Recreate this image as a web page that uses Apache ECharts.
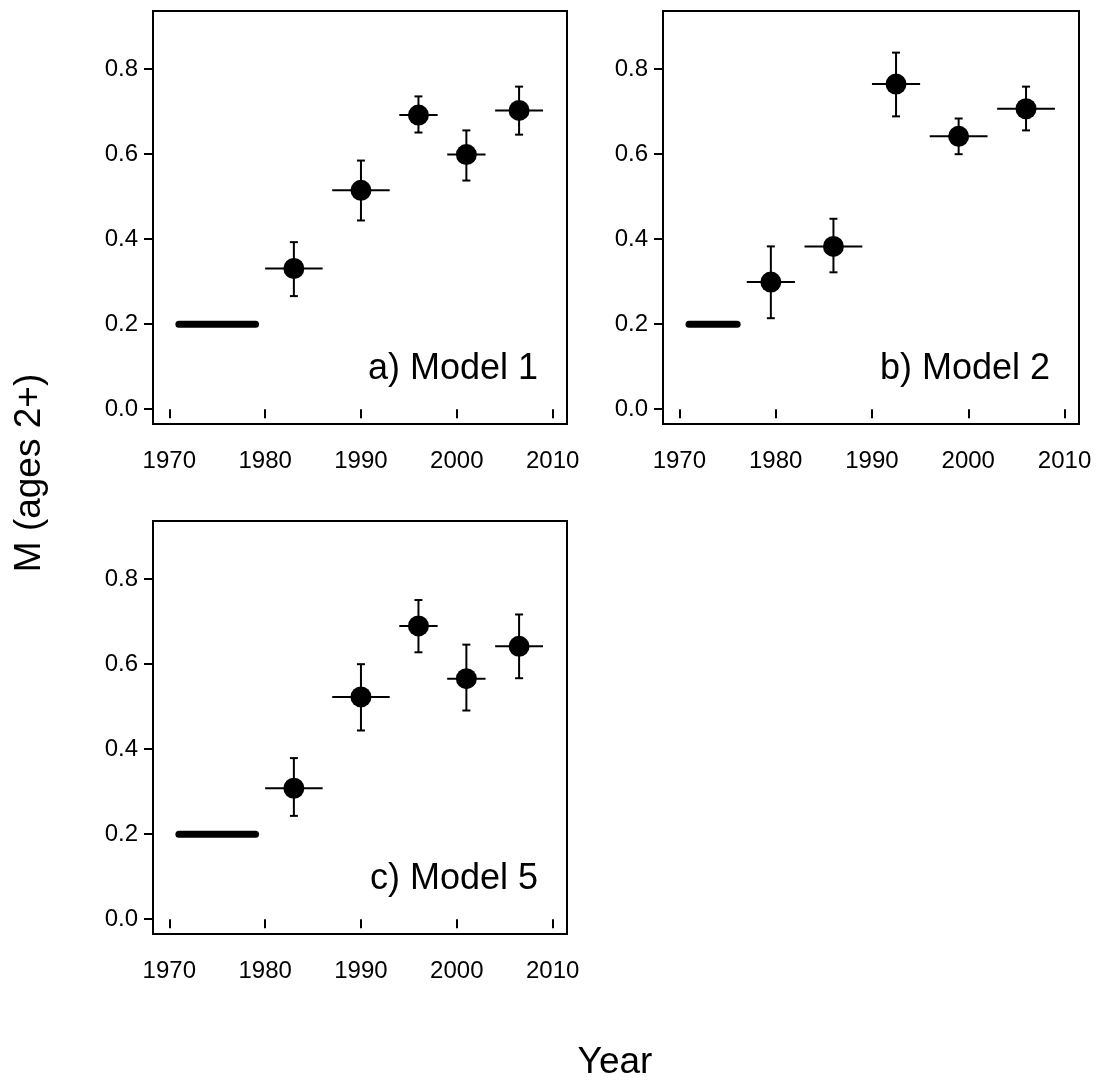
<!DOCTYPE html>
<html>
<head>
<meta charset="utf-8">
<script src="https://cdn.jsdelivr.net/npm/echarts@6/dist/echarts.min.js"></script>
<style>
  html, body { margin: 0; padding: 0; background: #fff; }
  #chart { width: 1096px; height: 1085px; }
</style>
</head>
<body>
<div id="chart"></div>
<script>
// tick labels
const xTicks = [1970, 1980, 1990, 2000, 2010];
const yTicks = [0, 0.2, 0.4, 0.6, 0.8];

// fixed M = 0.2 period for each model
const fixedM = 0.2;
const aFixed = [1971, 1979];
const bFixed = [1971, 1976];
const cFixed = [1971, 1979];

// a) Model 1
const aYear = [1983, 1990, 1996, 2001, 2006.5];
const aM = [0.331, 0.515, 0.692, 0.599, 0.703];
const aStart = [1980, 1987, 1994, 1999, 2004];
const aEnd = [1986, 1993, 1998, 2003, 2009];
const aLow = [0.266, 0.444, 0.651, 0.538, 0.646];
const aHigh = [0.393, 0.585, 0.736, 0.656, 0.759];

// b) Model 2
const bYear = [1979.5, 1986, 1992.5, 1999, 2006];
const bM = [0.299, 0.383, 0.765, 0.642, 0.707];
const bStart = [1977, 1983, 1990, 1996, 2003];
const bEnd = [1982, 1989, 1995, 2002, 2009];
const bLow = [0.214, 0.322, 0.689, 0.600, 0.656];
const bHigh = [0.383, 0.448, 0.839, 0.684, 0.759];

// c) Model 5
const cYear = [1983, 1990, 1996, 2001, 2006.5];
const cM = [0.308, 0.523, 0.690, 0.566, 0.642];
const cStart = [1980, 1987, 1994, 1999, 2004];
const cEnd = [1986, 1993, 1998, 2003, 2009];
const cLow = [0.243, 0.444, 0.628, 0.491, 0.567];
const cHigh = [0.379, 0.600, 0.751, 0.646, 0.717];

const FONT = '"Liberation Sans", Arial, sans-serif';

const panels = [
  { label: 'a) Model 1', grid: { left: 153, top: 11, width: 414, height: 413 },
    fixed: aFixed, year: aYear, m: aM, start: aStart, end: aEnd, low: aLow, high: aHigh },
  { label: 'b) Model 2', grid: { left: 663, top: 11, width: 416, height: 413 },
    fixed: bFixed, year: bYear, m: bM, start: bStart, end: bEnd, low: bLow, high: bHigh },
  { label: 'c) Model 5', grid: { left: 153, top: 521, width: 414, height: 413 },
    fixed: cFixed, year: cYear, m: cM, start: cStart, end: cEnd, low: cLow, high: cHigh }
];

const grids = [], xAxes = [], yAxes = [], series = [], graphics = [];

panels.forEach((p, i) => {
  grids.push(Object.assign({
    show: true, borderColor: '#000', borderWidth: 2, backgroundColor: 'transparent'
  }, p.grid));

  xAxes.push({
    gridIndex: i, type: 'value', min: 1968.3, max: 2011.5,
    axisLine: { show: false },
    splitLine: { show: false },
    axisTick: { show: true, inside: false, length: 9, customValues: xTicks,
      lineStyle: { color: '#000', width: 2 } },
    axisLabel: { customValues: xTicks, margin: 25, color: '#000',
      fontSize: 24, fontFamily: FONT, formatter: v => String(v) }
  });
  yAxes.push({
    gridIndex: i, type: 'value', min: -0.035, max: 0.937,
    axisLine: { show: false },
    splitLine: { show: false },
    axisTick: { show: true, inside: false, length: 9, customValues: yTicks,
      lineStyle: { color: '#000', width: 2 } },
    axisLabel: { customValues: yTicks, margin: 15, color: '#000',
      fontSize: 24, fontFamily: FONT, formatter: v => v.toFixed(1) }
  });

  // thick line for the fixed-M years
  series.push({
    type: 'line', xAxisIndex: i, yAxisIndex: i, symbol: 'none', silent: true,
    lineStyle: { color: '#000', width: 7, cap: 'round' },
    data: p.fixed.map(x => [x, fixedM])
  });

  // horizontal period bars and vertical error bars
  const errData = p.year.map((y, k) => [y, p.m[k], p.start[k], p.end[k], p.low[k], p.high[k]]);
  series.push({
    type: 'custom', xAxisIndex: i, yAxisIndex: i, silent: true,
    encode: { x: 0, y: 1 },
    data: errData,
    renderItem: (params, api) => {
      const mid = api.coord([api.value(0), api.value(1)]);
      const left = api.coord([api.value(2), api.value(1)]);
      const right = api.coord([api.value(3), api.value(1)]);
      const lo = api.coord([api.value(0), api.value(4)]);
      const hi = api.coord([api.value(0), api.value(5)]);
      const st = { stroke: '#000', lineWidth: 2 };
      const cap = 4;
      return {
        type: 'group',
        children: [
          { type: 'line', shape: { x1: left[0], y1: mid[1], x2: right[0], y2: mid[1] }, style: st },
          { type: 'line', shape: { x1: mid[0], y1: lo[1], x2: mid[0], y2: hi[1] }, style: st },
          { type: 'line', shape: { x1: mid[0] - cap, y1: lo[1], x2: mid[0] + cap, y2: lo[1] }, style: st },
          { type: 'line', shape: { x1: mid[0] - cap, y1: hi[1], x2: mid[0] + cap, y2: hi[1] }, style: st }
        ]
      };
    }
  });

  // point estimates
  series.push({
    type: 'scatter', xAxisIndex: i, yAxisIndex: i, silent: true,
    symbol: 'circle', symbolSize: 21, z: 5,
    itemStyle: { color: '#000', opacity: 1 },
    data: p.year.map((y, k) => [y, p.m[k]])
  });

  // panel label, bottom right inside the box
  graphics.push({
    type: 'text',
    x: p.grid.left + p.grid.width - 29,
    y: p.grid.top + 358,
    style: { text: p.label, fill: '#000', font: '36px ' + FONT,
      textAlign: 'right', textVerticalAlign: 'middle' }
  });
});

graphics.push({
  type: 'text', x: 615, y: 1063,
  style: { text: 'Year', fill: '#000', font: '37px ' + FONT,
    textAlign: 'center', textVerticalAlign: 'middle' }
});
graphics.push({
  type: 'text', x: 30, y: 473, rotation: Math.PI / 2,
  style: { text: 'M (ages 2+)', fill: '#000', font: '37px ' + FONT,
    textAlign: 'center', textVerticalAlign: 'middle' }
});

const chart = echarts.init(document.getElementById('chart'), null, { renderer: 'canvas' });
chart.setOption({
  animation: false,
  backgroundColor: '#fff',
  grid: grids,
  xAxis: xAxes,
  yAxis: yAxes,
  series: series,
  graphic: graphics
});
</script>
</body>
</html>
